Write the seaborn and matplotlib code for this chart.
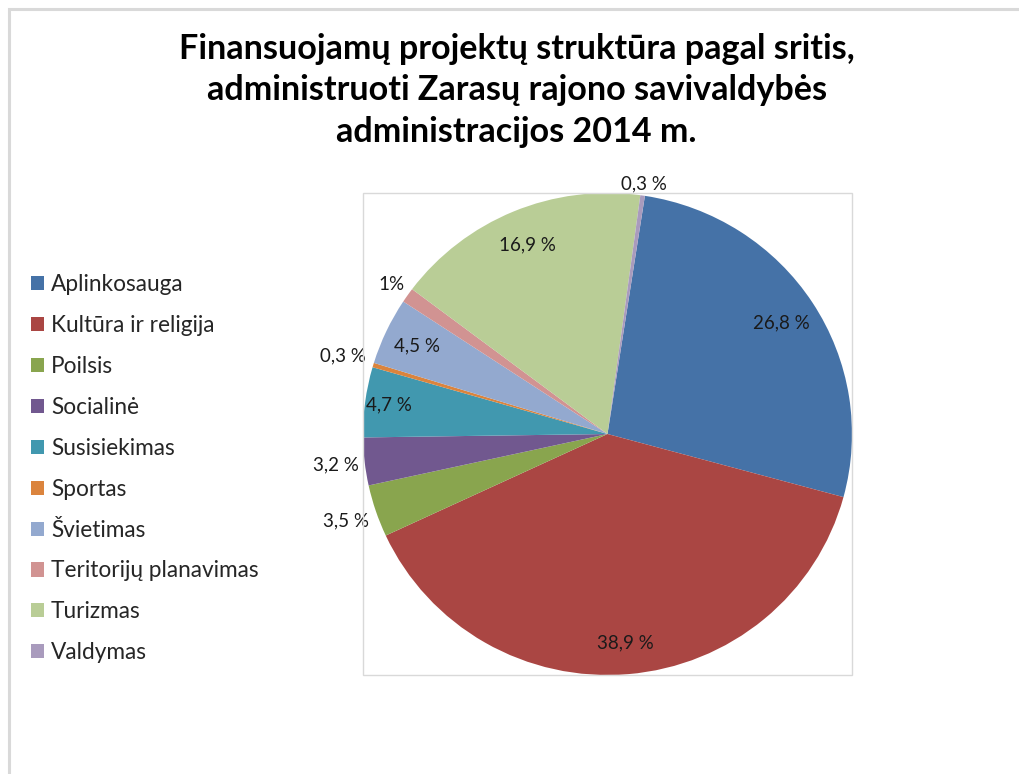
# Pie chart of funded project structure by area (Zarasai district, 2014)

import matplotlib.pyplot as plt
import numpy as np
import seaborn as sns
from matplotlib.patches import Rectangle

# Data
categories = [
    "Aplinkosauga",
    "Kultūra ir religija",
    "Poilsis",
    "Socialinė",
    "Susisiekimas",
    "Sportas",
    "Švietimas",
    "Teritorijų planavimas",
    "Turizmas",
    "Valdymas",
]
shares = [26.8, 38.9, 3.5, 3.2, 4.7, 0.3, 4.5, 1.0, 16.9, 0.3]
share_labels = ["26,8 %", "38,9 %", "3,5 %", "3,2 %", "4,7 %",
                "0,3 %", "4,5 %", "1%", "16,9 %", "0,3 %"]

# Excel 2007 style palette
colors = ["#4572A7", "#AA4643", "#89A54E", "#71588F", "#4198AF",
          "#DB843D", "#93A9CF", "#D19392", "#B9CD96", "#A99BBD"]

# Radial position of each data label (fraction of pie radius)
label_dist = [0.85, 0.87, 1.13, 1.12, 0.90, 1.13, 0.86, 1.08, 0.85, 1.05]

title = ("Finansuojamų projektų struktūra pagal sritis,\n"
         "administruoti Zarasų rajono savivaldybės\n"
         "administracijos 2014 m.")

sns.set_theme(style="white")
plt.rcParams["font.family"] = ["Lato", "DejaVu Sans"]

W, H = 1019, 774
fig = plt.figure(figsize=(W / 100, H / 100), dpi=100)
fig.patch.set_facecolor("white")

# Outer chart frame (only top and left edges are inside the picture)
fig.patches.append(Rectangle((9 / W, -0.1), 1.2, (H - 9) / H + 0.1,
                             transform=fig.transFigure, fill=False,
                             edgecolor="#d9d9d9", linewidth=2.2))

# Plot area box
box = [363 / W, (H - 675) / H, 489 / W, 482 / H]
fig.patches.append(Rectangle((box[0], box[1]), box[2], box[3],
                             transform=fig.transFigure, fill=False,
                             edgecolor="#d9d9d9", linewidth=1))

ax = fig.add_axes(box)
wedges, _ = ax.pie(
    shares,
    colors=sns.color_palette(colors),
    startangle=90 - 8.8,
    counterclock=False,
    radius=1.0,
    wedgeprops={"linewidth": 0},
)
ax.set_aspect("auto")
ax.set_xlim(-1, 1)
ax.set_ylim(-1, 1)

# Data labels placed along each wedge's mid angle
for w, txt, d in zip(wedges, share_labels, label_dist):
    ang = np.deg2rad((w.theta1 + w.theta2) / 2)
    ax.text(d * np.cos(ang), d * np.sin(ang), txt, ha="center", va="center",
            fontsize=13.5, color="#1a1a1a", clip_on=False)

fig.text(0.507, 0.958, title, ha="center", va="top", fontsize=24.6,
         fontweight="bold", linespacing=1.37, color="black")

fig.legend(
    wedges, categories,
    loc="upper left", bbox_to_anchor=(31 / W, (H - 274) / H),
    frameon=False, fontsize=16.3, handlelength=0.58, handleheight=0.58,
    handletextpad=0.3, labelspacing=0.88, borderaxespad=0, borderpad=0,
)

fig.savefig("out.png", dpi=100, facecolor="white")
